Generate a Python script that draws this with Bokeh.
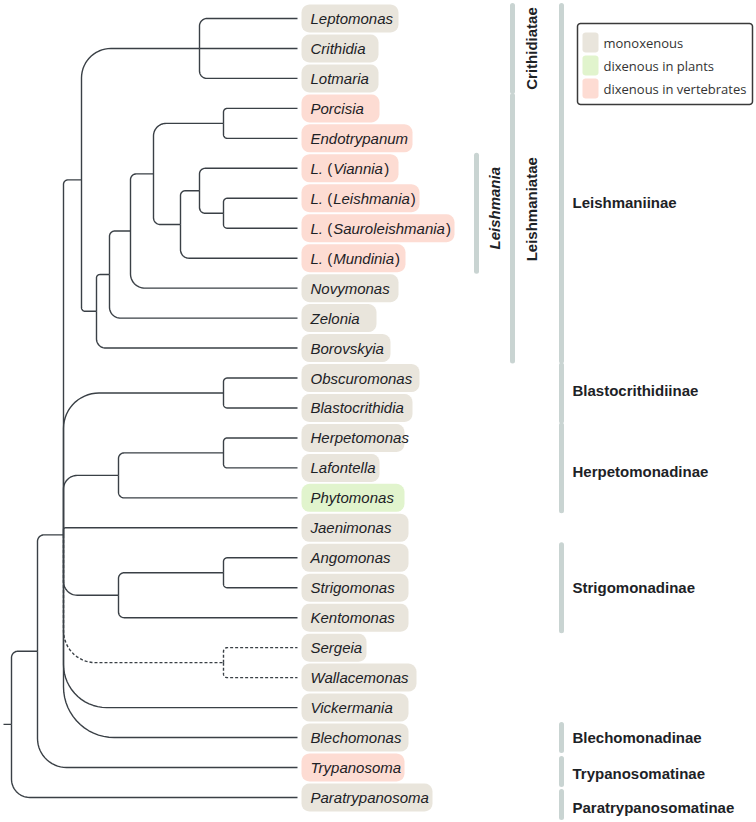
import numpy as np
from bokeh.plotting import figure
from bokeh.models import Range1d
from bokeh.core.properties import value
from bokeh.embed import file_html
from bokeh.resources import INLINE

# ---------------- data ----------------
leaves = ["Leptomonas", "Crithidia", "Lotmaria", "Porcisia", "Endotrypanum",
          "L. (Viannia)", "L. (Leishmania)", "L. (Sauroleishmania)", "L. (Mundinia)",
          "Novymonas", "Zelonia", "Borovskyia", "Obscuromonas", "Blastocrithidia",
          "Herpetomonas", "Lafontella", "Phytomonas", "Jaenimonas", "Angomonas",
          "Strigomonas", "Kentomonas", "Sergeia", "Wallacemonas", "Vickermania",
          "Blechomonas", "Trypanosoma", "Paratrypanosoma"]
host = ["mono", "mono", "mono", "vert", "vert",
        "vert", "vert", "vert", "vert",
        "mono", "mono", "mono", "mono", "mono",
        "mono", "mono", "plant", "mono", "mono",
        "mono", "mono", "mono", "mono", "mono",
        "mono", "vert", "mono"]

# internal nodes: name -> depth, and children
node_depth = {"root": 11, "L": 37, "K": 63, "J": 81, "I": 199, "H": 96, "G": 109,
              "F": 130, "E": 153, "A": 223, "D": 180, "C": 199, "B": 223,
              "Blast": 223, "HerpL": 223, "Herp": 118, "AngS": 223, "Strig": 118,
              "SW": 223}
node_children = {
    "root": ["L", "Paratrypanosoma"],
    "L": ["K", "Trypanosoma"],
    "K": ["J", "Blast", "Herp", "Jaenimonas", "Strig", "SW", "Vickermania", "Blechomonas"],
    "J": ["I", "H"],
    "I": ["Leptomonas", "Crithidia", "Lotmaria"],
    "H": ["G", "Borovskyia"],
    "G": ["F", "Zelonia"],
    "F": ["E", "Novymonas"],
    "E": ["A", "D"],
    "A": ["Porcisia", "Endotrypanum"],
    "D": ["C", "L. (Mundinia)"],
    "C": ["L. (Viannia)", "B"],
    "B": ["L. (Leishmania)", "L. (Sauroleishmania)"],
    "Blast": ["Obscuromonas", "Blastocrithidia"],
    "Herp": ["HerpL", "Phytomonas"],
    "HerpL": ["Herpetomonas", "Lafontella"],
    "Strig": ["AngS", "Kentomonas"],
    "AngS": ["Angomonas", "Strigomonas"],
    "SW": ["Sergeia", "Wallacemonas"],
}
uncertain = {"SW", "Sergeia", "Wallacemonas"}   # dashed branches

subfamilies = ["Leishmaniinae", "Blastocrithidiinae", "Herpetomonadinae", "Strigomonadinae",
               "Blechomonadinae", "Trypanosomatinae", "Paratrypanosomatinae"]
sub_first = [0, 12, 14, 18, 24, 25, 26]
sub_last = [11, 13, 16, 20, 24, 25, 26]
infratribes = ["Crithidiatae", "Leishmaniatae"]
inf_first = [0, 3]
inf_last = [2, 11]
genus = ["Leishmania"]
gen_first = [5]
gen_last = [8]

legend_labels = ["monoxenous", "dixenous in plants", "dixenous in vertebrates"]
legend_keys = ["mono", "plant", "vert"]

# ---------------- layout / style ----------------
host_color = {"mono": "#e9e5dc", "plant": "#e1f4cd", "vert": "#fddcd3"}
line_color = "#3a4046"
bar_color = "#c9d4d2"
txt_color = "#1d2226"
FONT = value("Liberation Sans")
leaf_x = 297
y0, dy_leaf = 18, 29.96
box_left = 301
box_right = [398, 378, 378, 379, 412, 398, 419, 454, 405, 398, 376, 390, 419, 412,
             404, 379, 404, 408, 408, 408, 408, 366, 416, 408, 408, 404, 432]
FS = 15
sub_bar_shift = [0, 0, 0, 0, 0, 4, 7]
sub_label_shift = [19, -3, 4, 0, 0, 2, 3]
inf_label_shift = [0, -19]
gen_label_shift = [-5]

leaf_y = {n: y0 + i * dy_leaf for i, n in enumerate(leaves)}
pos = {}

def place(n):
    if n in leaf_y:
        pos[n] = (leaf_x, leaf_y[n])
        return leaf_y[n]
    ys = [place(c) for c in node_children[n]]
    pos[n] = (node_depth[n], float(np.mean(ys)))
    return pos[n][1]

place("root")

def edge(xp, yp, xc, yc, n=16):
    d = yc - yp
    if abs(d) < 0.5:
        return [xp, xc], [yc, yc]
    s = 1 if d > 0 else -1
    r = min(0.25 * abs(d), 0.25 * (xc - xp))
    xs, ys = [xp, xp], [yp, yc - s * r]
    for t in np.linspace(0, np.pi / 2, n):
        xs.append(xp + r - r * np.cos(t))
        ys.append(yc - s * r + s * r * np.sin(t))
    xs.append(xc); ys.append(yc)
    return xs, ys

solid_x, solid_y, dash_x, dash_y = [], [], [], []
for par, ch in node_children.items():
    xp, yp = pos[par]
    for c in ch:
        xc, yc = pos[c]
        ex, ey = edge(xp, yp, xc, yc)
        if c in uncertain:
            dash_x.append(ex); dash_y.append(ey)
        else:
            solid_x.append(ex); solid_y.append(ey)
rx, ry = pos["root"]
solid_x.append([3, rx]); solid_y.append([ry, ry])


def rrect(l, r, b, t, rad, n=6):
    xs, ys = [], []
    corners = [(r - rad, b + rad, -np.pi / 2, 0), (r - rad, t - rad, 0, np.pi / 2),
               (l + rad, t - rad, np.pi / 2, np.pi), (l + rad, b + rad, np.pi, 1.5 * np.pi)]
    for cx, cy, a0, a1 in corners:
        for a in np.linspace(a0, a1, n):
            xs.append(cx + rad * np.cos(a)); ys.append(cy + rad * np.sin(a))
    return xs, ys

# ---------------- figure ----------------
p = figure(width=756, height=822, x_range=Range1d(0, 756), y_range=Range1d(822, 0),
           output_backend="svg", toolbar_location=None, min_border=0,
           background_fill_color="white", border_fill_color="white")
p.axis.visible = False
p.grid.visible = False
p.outline_line_color = None

# label boxes
bx, by, bc = [], [], []
for i, n in enumerate(leaves):
    yc = leaf_y[n]
    xs, ys = rrect(box_left, box_right[i], yc - 14, yc + 14, 8)
    bx.append(xs); by.append(ys); bc.append(host_color[host[i]])
p.patches(bx, by, fill_color=bc, line_color=None)

# tree
p.multi_line(solid_x, solid_y, line_color=line_color, line_width=1.4)
p.multi_line(dash_x, dash_y, line_color=line_color, line_width=1.4, line_dash="3 2")

# leaf labels (genus names italic, brackets upright)
W = {'a': .556, 'b': .556, 'c': .5, 'd': .556, 'e': .556, 'f': .278, 'g': .556, 'h': .556,
     'i': .222, 'j': .222, 'k': .5, 'l': .222, 'm': .833, 'n': .556, 'o': .556, 'p': .556,
     'q': .556, 'r': .333, 's': .5, 't': .278, 'u': .556, 'v': .5, 'w': .722, 'x': .5,
     'y': .5, 'z': .5, 'L': .556, 'V': .667, 'S': .667, 'M': .833, ' ': .278, '(': .333,
     ')': .333, '.': .278}

def tw(s):
    return sum(W.get(ch, .556) for ch in s) * FS

it_x, it_y, it_t, up_x, up_y, up_t = [], [], [], [], [], []
for n in leaves:
    y = leaf_y[n]
    x = 310
    if n.startswith("L. ("):
        inner = n[4:-1]
        it_x += [x, x + tw("L. (") + 1]; it_y += [y, y]; it_t += ["L.", inner]
        up_x += [x + tw("L. "), x + tw("L. (" + inner) + 2]; up_y += [y, y]; up_t += ["(", ")"]
    else:
        it_x.append(x); it_y.append(y); it_t.append(n)
p.text(it_x, it_y, text=it_t, text_font=FONT, text_font_style="italic",
       text_font_size=f"{FS}px", text_baseline="middle", text_color=txt_color)
p.text(up_x, up_y, text=up_t, text_font=FONT,
       text_font_size=f"{FS}px", text_baseline="middle", text_color=txt_color)

# clade bars
def bars(first, last, x, shift):
    y_a = [leaf_y[leaves[i]] - 13 + s for i, s in zip(first, shift)]
    y_b = [leaf_y[leaves[i]] + 13 + s for i, s in zip(last, shift)]
    p.segment(x0=[x] * len(first), y0=y_a, x1=[x] * len(first), y1=y_b,
              line_color=bar_color, line_width=5, line_cap="round")
    return [(a + b) / 2 for a, b in zip(y_a, y_b)]

sub_c = bars(sub_first, sub_last, 561, sub_bar_shift)
inf_c = bars(inf_first, inf_last, 512, [0, 0])
gen_c = bars(gen_first, gen_last, 476, [0])

p.text([572] * len(subfamilies), [c + s for c, s in zip(sub_c, sub_label_shift)],
       text=subfamilies, text_font=FONT,
       text_font_style="bold", text_font_size=f"{FS}px", text_baseline="middle",
       text_color=txt_color)
p.text([531] * len(infratribes), [c + s for c, s in zip(inf_c, inf_label_shift)],
       text=infratribes, text_font=FONT,
       text_font_style="bold", text_font_size=f"{FS}px", text_baseline="middle",
       text_align="center", angle=np.pi / 2, text_color=txt_color)
p.text([494] * len(genus), [c + s for c, s in zip(gen_c, gen_label_shift)],
       text=genus, text_font=FONT,
       text_font_style="bold italic", text_font_size=f"{FS}px", text_baseline="middle",
       text_align="center", angle=np.pi / 2, text_color=txt_color)

# legend
lx, ly = rrect(577, 752, 23, 104, 3)
p.patch(lx, ly, fill_color="white", line_color="#3a3a3a", line_width=1.5)
leg_y = [42, 65, 88]
sx, sy = [], []
for yc in leg_y:
    xs, ys = rrect(582, 598, yc - 10, yc + 10, 3)
    sx.append(xs); sy.append(ys)
p.patches(sx, sy, fill_color=[host_color[k] for k in legend_keys], line_color=None)
p.text([603] * 3, leg_y, text=legend_labels, text_font=value("Open Sans"),
       text_font_size="13px", text_baseline="middle", text_color="#333333")

open("out.html", "w").write(file_html(p, INLINE))
